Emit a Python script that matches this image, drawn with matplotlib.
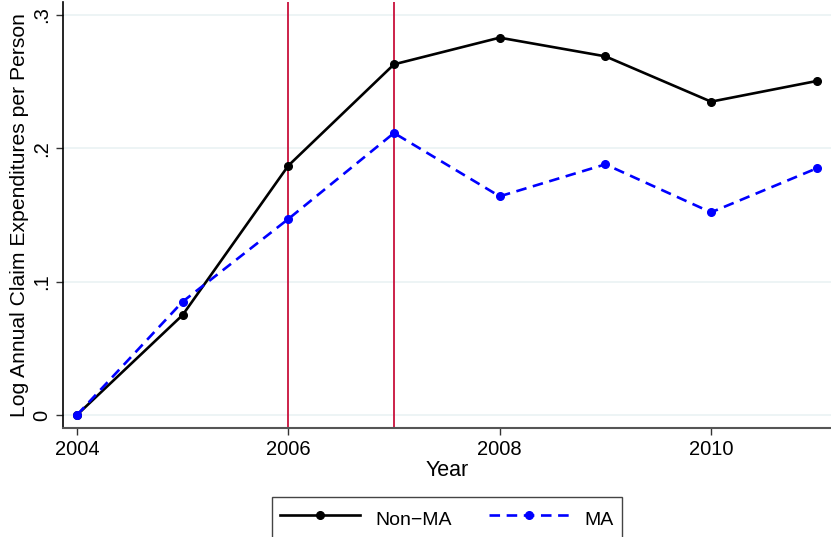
import matplotlib.pyplot as plt

plt.rcParams['font.family'] = ['Liberation Sans', 'DejaVu Sans']

years = [2004, 2005, 2006, 2007, 2008, 2009, 2010, 2011]
non_ma = [0.0, 0.075, 0.187, 0.263, 0.283, 0.269, 0.235, 0.2505]
ma = [0.0, 0.085, 0.147, 0.2115, 0.164, 0.188, 0.152, 0.185]
policy_years = [2006, 2007]
yticks = [0, 0.1, 0.2, 0.3]
ytick_labels = ['0', '.1', '.2', '.3']
xticks = [2004, 2006, 2008, 2010]

fig = plt.figure(figsize=(8.31, 5.37), dpi=100)
ax = fig.add_axes([63 / 831, 109 / 537, 768 / 831, 426 / 537])

for y in yticks:
    ax.axhline(y, color='#eaf2f3', lw=1.2, zorder=0)
for x in policy_years:
    ax.axvline(x, color='#c8103c', lw=1.3, zorder=1)

ax.plot(years, non_ma, color='black', lw=1.9, marker='o', ms=5.5, label='Non\u2212MA', zorder=3)
ax.plot(years, ma, color='blue', lw=1.9, ls=(0, (4, 2.5)), marker='o', ms=5.5, label='MA', zorder=3)

ax.set_xlim(2003.868, 2011.135)
ax.set_ylim(-0.00975, 0.30975)
ax.set_xticks(xticks)
ax.set_yticks(yticks)
ax.set_yticklabels(ytick_labels, rotation=90, va='center')
ax.tick_params(axis='both', labelsize=14.5, length=5, width=1, colors='#333333', labelcolor='black')

for side in ['top', 'right']:
    ax.spines[side].set_visible(False)
ax.spines['left'].set_color('black')
ax.spines['bottom'].set_color('#555555')
ax.spines['left'].set_linewidth(1.2)
ax.spines['bottom'].set_linewidth(1.5)

ax.set_xlabel('Year', fontsize=15.5, labelpad=1)
ax.set_ylabel('Log Annual Claim Expenditures per Person', fontsize=15.2, labelpad=2)

leg = fig.legend(loc='upper center', bbox_to_anchor=(447 / 831, 40 / 537), ncol=2,
                 fontsize=14, handlelength=4.1, handleheight=1.6, columnspacing=1.9,
                 fancybox=False, edgecolor='#444444', borderpad=0.45, borderaxespad=0,
                 framealpha=1)
leg.get_frame().set_linewidth(1.0)

fig.savefig('out.png', dpi=100)
